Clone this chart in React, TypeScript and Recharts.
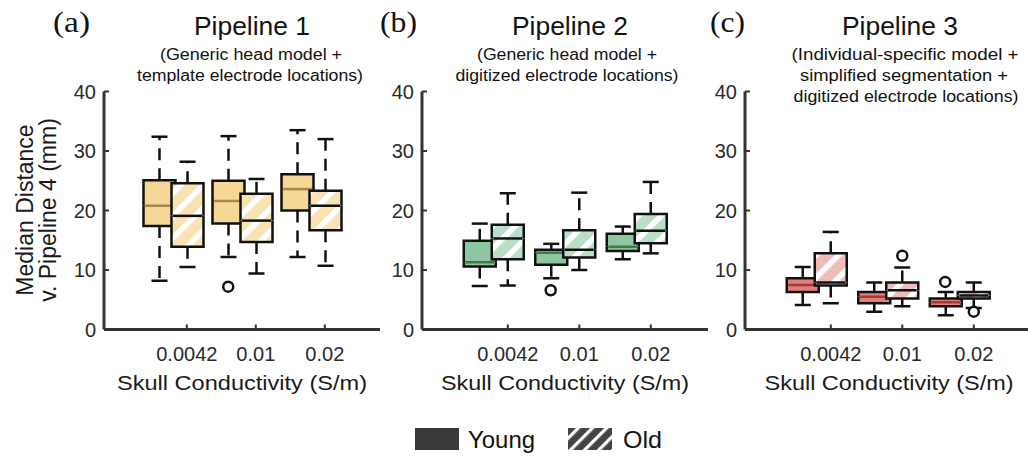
import React from 'react';
import { ComposedChart, Bar, XAxis, YAxis, ReferenceDot } from 'recharts';

// ---------- data ----------
const conductivity = ['0.0042', '0.01', '0.02'];
const tickPositions = [1, 2, 3];
const yTicks = [0, 10, 20, 30, 40];

// five-number summaries per conductivity: [min, q1, median, q3, max] (mm)
const p1Young = [[8.2, 17.4, 20.8, 25.1, 32.4], [12.2, 17.8, 21.6, 25.0, 32.5], [12.2, 20.0, 23.6, 26.1, 33.5]];
const p1Old = [[10.5, 13.9, 19.1, 24.6, 28.2], [9.4, 14.7, 18.3, 22.8, 25.3], [10.7, 16.7, 20.8, 23.3, 32.0]];
const p1Outliers = [{ group: 'young', index: 1, value: 7.2 }];

const p2Young = [[7.3, 10.6, 11.3, 14.9, 17.8], [8.6, 10.9, 12.9, 13.4, 14.4], [11.8, 13.2, 13.9, 16.1, 17.3]];
const p2Old = [[7.4, 11.8, 15.3, 17.6, 22.9], [10.0, 12.1, 13.4, 16.7, 23.0], [12.8, 14.5, 16.6, 19.4, 24.8]];
const p2Outliers = [{ group: 'young', index: 1, value: 6.6 }];

const p3Young = [[4.1, 6.3, 7.5, 8.6, 10.5], [3.0, 4.4, 5.5, 6.3, 7.9], [2.4, 3.9, 4.6, 5.2, 6.3]];
const p3Old = [[4.4, 7.4, 7.9, 12.8, 16.4], [3.9, 5.2, 6.6, 7.9, 10.4], [3.6, 5.2, 5.7, 6.3, 7.9]];
const p3Outliers = [
  { group: 'old', index: 1, value: 12.4 },
  { group: 'young', index: 2, value: 8.0 },
  { group: 'old', index: 2, value: 3.0 },
];

const legendLabels = ['Young', 'Old'];
const xAxisTitle = 'Skull Conductivity (S/m)';
const yAxisTitle = ['Median Distance', 'v. Pipeline 4 (mm)'];

// ---------- helpers ----------
const FONT = '"Liberation Sans", Arial, Helvetica, sans-serif';
const SERIF = '"Liberation Serif", "Times New Roman", serif';
const INK = '#111';
const AXIS = '#333';

const buildRows = (young: number[][], old: number[][]) =>
  tickPositions.map((t, i) => {
    const y = young[i];
    const o = old[i];
    return {
      pos: t - 0.2,
      yBase: y[0], yLw: y[1] - y[0], yLb: y[2] - y[1], yUb: y[3] - y[2], yUw: y[4] - y[3],
      oBase: o[0], oLw: o[1] - o[0], oLb: o[2] - o[1], oUb: o[3] - o[2], oUw: o[4] - o[3],
    };
  });

const Empty = () => <g />;

const makeWhisker = (dir: 'low' | 'high') => (props: any) => {
  const { x, y, width, height } = props;
  if (x == null || y == null) return <g />;
  const top = Math.min(y, y + height);
  const bot = Math.max(y, y + height);
  const cx = x + width / 2;
  const capY = dir === 'low' ? bot : top;
  const boxY = dir === 'low' ? top : bot;
  return (
    <g>
      <line x1={cx} x2={cx} y1={boxY} y2={capY} stroke={INK} strokeWidth={2.5} strokeDasharray="12 8" />
      <line x1={cx - 8} x2={cx + 8} y1={capY} y2={capY} stroke={INK} strokeWidth={2.5} />
    </g>
  );
};

const makeBox = (part: 'low' | 'high', fill: string, median: string) => (props: any) => {
  const { x, y, width, height } = props;
  if (x == null || y == null) return <g />;
  const top = Math.min(y, y + height);
  const bot = Math.max(y, y + height);
  const r = x + width;
  if (part === 'low') {
    return (
      <g>
        <rect x={x} y={top} width={width} height={bot - top} fill={fill} />
        <polyline points={`${x},${top} ${x},${bot} ${r},${bot} ${r},${top}`} fill="none" stroke={INK} strokeWidth={2.5} />
      </g>
    );
  }
  return (
    <g>
      <rect x={x} y={top} width={width} height={bot - top} fill={fill} />
      <polyline points={`${x},${bot} ${x},${top} ${r},${top} ${r},${bot}`} fill="none" stroke={INK} strokeWidth={2.5} />
      <line x1={x + 1.5} x2={r - 1.5} y1={bot} y2={bot} stroke={median} strokeWidth={2.5} />
    </g>
  );
};

const XTick = (props: any) => {
  const { x, y, payload } = props;
  const idx = tickPositions.indexOf(payload.value);
  return (
    <text x={x} y={y} dy="0.71em" textAnchor="middle" fontSize={20} fontFamily={FONT} fill="#2a2a2a">
      {conductivity[idx] ?? ''}
    </text>
  );
};

const YTick = (props: any) => {
  const { x, y, payload } = props;
  return (
    <text x={x} y={y} dy="0.355em" textAnchor="end" fontSize={20} fontFamily={FONT} fill="#2a2a2a">
      {payload.value}
    </text>
  );
};

type PanelCfg = {
  id: string;
  young: number[][];
  old: number[][];
  outliers: { group: string; index: number; value: number }[];
  youngFill: string;
  youngMedian: string;
  left: number;
  width: number;
  yAxisWidth: number;
};

const panels: PanelCfg[] = [
  { id: 'a', young: p1Young, old: p1Old, outliers: p1Outliers, youngFill: '#F7D796', youngMedian: '#A8874C', left: 0, width: 380, yAxisWidth: 104 },
  { id: 'b', young: p2Young, old: p2Old, outliers: p2Outliers, youngFill: '#8DC6A0', youngMedian: '#3D7A50', left: 330, width: 378, yAxisWidth: 92 },
  { id: 'c', young: p3Young, old: p3Old, outliers: p3Outliers, youngFill: '#DF8078', youngMedian: '#A23B35', left: 660, width: 371, yAxisWidth: 85 },
];

const oldColors: Record<string, string> = { a: '#F9E2B3', b: '#BADFC6', c: '#EEBDB9' };

const Panel = ({ cfg }: { cfg: PanelCfg }) => {
  const rows = buildRows(cfg.young, cfg.old);
  const hatch = `url(#hatch-${cfg.id})`;
  return (
    <div style={{ position: 'absolute', left: cfg.left, top: 0, width: cfg.width, height: 456 }}>
      <ComposedChart
        width={cfg.width}
        height={456}
        data={rows}
        margin={{ top: 91.5, right: 0, bottom: 66.5, left: 0 }}
        barGap={-4}
      >
        <XAxis
          type="number"
          dataKey="pos"
          domain={[-0.2, 3.8]}
          allowDataOverflow
          ticks={tickPositions}
          interval={0}
          tick={<XTick />}
          tickSize={-5}
          tickMargin={22}
          height={60}
          axisLine={{ stroke: AXIS, strokeWidth: 3 }}
          tickLine={{ stroke: AXIS, strokeWidth: 2 }}
        />
        <YAxis
          type="number"
          domain={[0, 40]}
          ticks={yTicks}
          interval={0}
          width={cfg.yAxisWidth}
          tick={<YTick />}
          tickSize={-5}
          tickMargin={13}
          axisLine={{ stroke: AXIS, strokeWidth: 3 }}
          tickLine={{ stroke: AXIS, strokeWidth: 2 }}
        />
        <Bar dataKey="yBase" stackId="young" barSize={32} shape={Empty} isAnimationActive={false} />
        <Bar dataKey="yLw" stackId="young" barSize={32} shape={makeWhisker('low')} isAnimationActive={false} />
        <Bar dataKey="yLb" stackId="young" barSize={32} shape={makeBox('low', cfg.youngFill, cfg.youngMedian)} isAnimationActive={false} />
        <Bar dataKey="yUb" stackId="young" barSize={32} shape={makeBox('high', cfg.youngFill, cfg.youngMedian)} isAnimationActive={false} />
        <Bar dataKey="yUw" stackId="young" barSize={32} shape={makeWhisker('high')} isAnimationActive={false} />
        <Bar dataKey="oBase" stackId="old" barSize={32} shape={Empty} isAnimationActive={false} />
        <Bar dataKey="oLw" stackId="old" barSize={32} shape={makeWhisker('low')} isAnimationActive={false} />
        <Bar dataKey="oLb" stackId="old" barSize={32} shape={makeBox('low', hatch, INK)} isAnimationActive={false} />
        <Bar dataKey="oUb" stackId="old" barSize={32} shape={makeBox('high', hatch, INK)} isAnimationActive={false} />
        <Bar dataKey="oUw" stackId="old" barSize={32} shape={makeWhisker('high')} isAnimationActive={false} />
        {cfg.outliers.map((o, i) => (
          <ReferenceDot
            key={i}
            x={tickPositions[o.index] - (o.group === 'young' ? 0.4 : 0)}
            y={o.value}
            r={5}
            fill="#fff"
            stroke={INK}
            strokeWidth={2.5}
            ifOverflow="visible"
          />
        ))}
      </ComposedChart>
    </div>
  );
};

const T = (p: any) => {
  const { children, ...rest } = p;
  return (
    <text fontFamily={FONT} fill={INK} lengthAdjust="spacingAndGlyphs" {...rest}>
      {children}
    </text>
  );
};

const Overlay = () => (
  <svg width={1028} height={456} style={{ position: 'absolute', left: 0, top: 0, pointerEvents: 'none' }}>
    {/* panel letters */}
    <T x={53} y={32} fontSize={29} fontFamily={SERIF} textLength={37}>(a)</T>
    <T x={380} y={32} fontSize={29} fontFamily={SERIF} textLength={37}>(b)</T>
    <T x={710} y={32} fontSize={29} fontFamily={SERIF} textLength={35}>(c)</T>
    {/* titles */}
    <T x={252} y={35} fontSize={25} textAnchor="middle" textLength={116}>Pipeline 1</T>
    <T x={570} y={35} fontSize={25} textAnchor="middle" textLength={116}>Pipeline 2</T>
    <T x={900} y={35} fontSize={25} textAnchor="middle" textLength={116}>Pipeline 3</T>
    {/* subtitles */}
    <T x={251} y={60} fontSize={16} textAnchor="middle" textLength={182}>(Generic head model +</T>
    <T x={250} y={81} fontSize={16} textAnchor="middle" textLength={226}>template electrode locations)</T>
    <T x={567} y={60} fontSize={16} textAnchor="middle" textLength={180}>(Generic head model +</T>
    <T x={567} y={81} fontSize={16} textAnchor="middle" textLength={223}>digitized electrode locations)</T>
    <T x={905} y={60} fontSize={16} textAnchor="middle" textLength={227}>(Individual-specific model +</T>
    <T x={904} y={81} fontSize={16} textAnchor="middle" textLength={208}>simplified segmentation +</T>
    <T x={906} y={102} fontSize={16} textAnchor="middle" textLength={225}>digitized electrode locations)</T>
    {/* x axis titles */}
    <T x={242} y={390} fontSize={21} textAnchor="middle" textLength={250} fill="#1a1a1a">{xAxisTitle}</T>
    <T x={565} y={390} fontSize={21} textAnchor="middle" textLength={248} fill="#1a1a1a">{xAxisTitle}</T>
    <T x={889} y={390} fontSize={21} textAnchor="middle" textLength={249} fill="#1a1a1a">{xAxisTitle}</T>
    {/* y axis title */}
    <T transform="translate(33,210) rotate(-90)" fontSize={23} textAnchor="middle" fill="#1a1a1a">{yAxisTitle[0]}</T>
    <T transform="translate(56,210) rotate(-90)" fontSize={23} textAnchor="middle" fill="#1a1a1a">{yAxisTitle[1]}</T>
    {/* legend */}
    <rect x={415} y={428} width={44} height={22} fill="#3a3a3a" />
    <T x={468} y={448} fontSize={24} textLength={67}>{legendLabels[0]}</T>
    <rect x={568} y={428} width={44} height={22} fill="url(#legend-hatch)" />
    <T x={623} y={448} fontSize={24} textLength={39}>{legendLabels[1]}</T>
  </svg>
);

const Defs = () => (
  <svg width={0} height={0} style={{ position: 'absolute', left: 0, top: 0 }}>
    <defs>
      {Object.keys(oldColors).map((k) => (
        <pattern key={k} id={`hatch-${k}`} patternUnits="userSpaceOnUse" width={16} height={16} patternTransform="rotate(45)">
          <rect x={0} y={0} width={16} height={16} fill={oldColors[k]} />
          <rect x={0} y={0} width={5.5} height={16} fill="#ffffff" />
        </pattern>
      ))}
      <pattern id="legend-hatch" patternUnits="userSpaceOnUse" width={10} height={10} patternTransform="rotate(45)">
        <rect x={0} y={0} width={10} height={10} fill="#444" />
        <rect x={0} y={0} width={3.2} height={10} fill="#ffffff" />
      </pattern>
    </defs>
  </svg>
);

export default function App() {
  return (
    <div style={{ position: 'absolute', left: 0, top: 0, width: 1028, height: 456, overflow: 'hidden', background: '#fff' }}>
      <Defs />
      {panels.map((p) => (
        <Panel key={p.id} cfg={p} />
      ))}
      <Overlay />
    </div>
  );
}
